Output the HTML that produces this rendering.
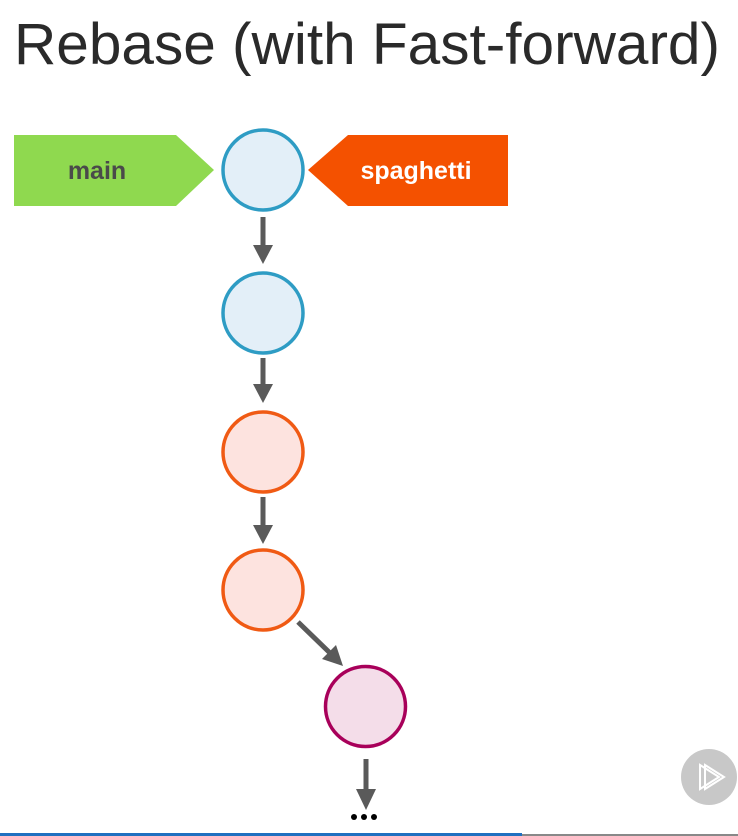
<!DOCTYPE html>
<html><head><meta charset="utf-8"><style>
html,body{margin:0;padding:0;background:#fff;width:738px;height:836px;overflow:hidden}
</style></head><body>
<svg width="738" height="836" viewBox="0 0 738 836" xmlns="http://www.w3.org/2000/svg">
<rect width="738" height="836" fill="#fff"/>
<text x="14" y="64" font-family="Liberation Sans, sans-serif" font-size="58" fill="#2a2a2a" textLength="706" lengthAdjust="spacingAndGlyphs">Rebase (with Fast-forward)</text>
<polygon points="14,135 176,135 214,170 176,206 14,206" fill="#8fd94f"/>
<text x="97" y="179" font-family="Liberation Sans, sans-serif" font-size="25" font-weight="bold" fill="#4a4a4a" text-anchor="middle">main</text>
<polygon points="508,135 348,135 308,170 348,206 508,206" fill="#f45100"/>
<text x="416" y="179" font-family="Liberation Sans, sans-serif" font-size="25" font-weight="bold" fill="#fff" text-anchor="middle">spaghetti</text>
<g stroke-width="3.5">
<circle cx="263" cy="170" r="40" fill="#e3eff8" stroke="#2e9cc4"/>
<circle cx="263" cy="313" r="40" fill="#e3eff8" stroke="#2e9cc4"/>
<circle cx="263" cy="452" r="40" fill="#fde3df" stroke="#f05a14"/>
<circle cx="263" cy="590" r="40" fill="#fde3df" stroke="#f05a14"/>
<circle cx="365.5" cy="706.5" r="40" fill="#f4dde9" stroke="#a8005a"/>
</g>
<g fill="#5a5a5a">
<rect x="260.5" y="217" width="5" height="30"/><polygon points="253,245 273,245 263,264"/>
<rect x="260.5" y="358" width="5" height="28"/><polygon points="253,384 273,384 263,403"/>
<rect x="260.5" y="497" width="5" height="30"/><polygon points="253,525 273,525 263,544"/>
<rect x="363.5" y="759" width="5" height="32"/><polygon points="356,789 376,789 366,810"/>
<circle cx="354" cy="817" r="3" fill="#000"/><circle cx="364" cy="817" r="3" fill="#000"/><circle cx="374" cy="817" r="3" fill="#000"/>
</g>
<line x1="298" y1="622" x2="330" y2="653" stroke="#5a5a5a" stroke-width="5"/>
<polygon points="343,666 322,659 336,645" fill="#5a5a5a"/>
<circle cx="709" cy="777" r="28" fill="#c8c8c8"/>
<g fill="none" stroke="#fff" stroke-width="2">
<polygon points="700,765 700,789 719,777"/><polygon points="705,765 705,789 724,777"/>
</g>
<rect x="0" y="833" width="522" height="3" fill="#1f6fc0"/>
<rect x="522" y="834" width="216" height="2" fill="#888"/>
</svg>
</body></html>
